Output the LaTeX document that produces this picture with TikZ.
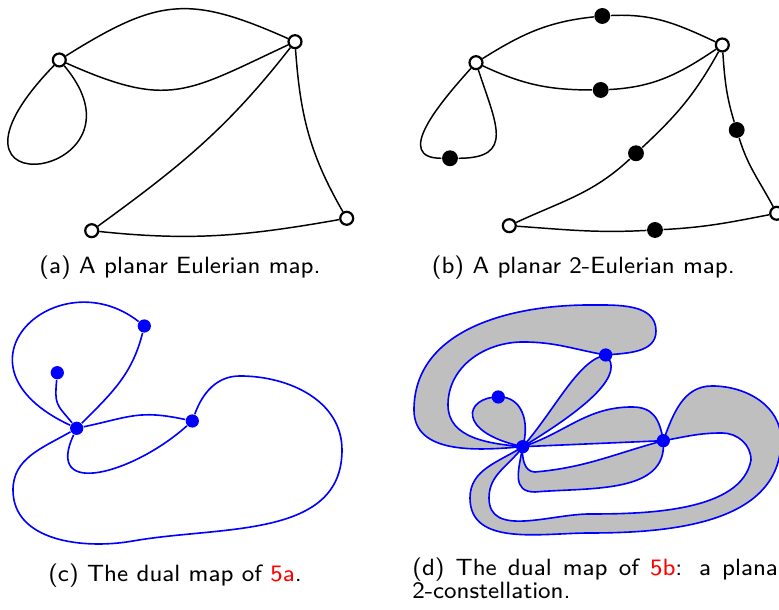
\documentclass[tikz,border=0pt]{standalone}
\usepackage{tikz}
\usetikzlibrary{backgrounds}
\tikzset{
  wvert/.style={circle,draw=black,fill=white,line width=0.75pt,inner sep=0pt,minimum size=4.4pt},
  bvert/.style={circle,fill=black,inner sep=0pt,minimum size=5.4pt},
  dvert/.style={circle,fill=blue,inner sep=0pt,minimum size=4.5pt},
  mapedge/.style={line width=0.5pt},
  dualedge/.style={draw=blue,line width=0.55pt},
  hyperface/.style={draw=blue,fill=gray!50,line width=0.55pt},
  subcap/.style={font=\sffamily\fontsize{8}{7.9}\selectfont,inner sep=0pt}
}
\begin{document}
\begin{tikzpicture}[x=0.34pt,y=0.34pt]
  \useasboundingbox (0,0) rectangle (779,610);
  \node[wvert] (a1) at (59.3,550) {};
  \node[wvert] (a2) at (295,568.3) {};
  \node[wvert] (a3) at (91.7,379.3) {};
  \node[wvert] (a4) at (346.7,391.7) {};
  \draw[mapedge] (a1) to[out=32,in=156,looseness=1.25] (a2);
  \draw[mapedge] (a1) to[out=-24,in=-155,looseness=1.3] (a2);
  \draw[mapedge] (a1) .. controls +(-150,-155) and +(100,-118) .. (a1);
  \draw[mapedge] (a2) to[out=232,in=36] (a3);
  \draw[mapedge] (a2) to[out=-86,in=120] (a4);
  \draw[mapedge] (a3) to[out=-6,in=-170] (a4);

  \node[wvert] (b1) at (476,547.3) {};
  \node[wvert] (b2) at (722.3,565) {};
  \node[wvert] (b3) at (509.3,384.3) {};
  \node[wvert] (b4) at (776.7,396.7) {};
  \node[bvert] (e1) at (602.3,594) {};
  \node[bvert] (e2) at (600.7,520) {};
  \node[bvert] (e3) at (450,451.7) {};
  \node[bvert] (e4) at (636,456.7) {};
  \node[bvert] (e5) at (736.7,480) {};
  \node[bvert] (e6) at (655,380) {};
  \draw[mapedge] (b1) to[out=32,in=186] (e1) to[out=3,in=155] (b2);
  \draw[mapedge] (b1) to[out=-25,in=180] (e2) to[out=3,in=-146] (b2);
  \draw[mapedge] (b1) to[out=228,in=180,looseness=1.3] (e3) to[out=0,in=-72,looseness=1.6] (b1);
  \draw[mapedge] (b2) to[out=241,in=43] (e4) to[out=223,in=25] (b3);
  \draw[mapedge] (b2) to[out=-86,in=107] (e5) to[out=-73,in=118] (b4);
  \draw[mapedge] (b3) to[out=-4,in=183] (e6) to[out=3,in=191] (b4);

  \node[dvert] (c1) at (76.7,181.7) {};
  \node[dvert] (c2) at (144.3,284) {};
  \node[dvert] (c3) at (57.3,237.3) {};
  \node[dvert] (c4) at (192.3,189) {};
  \draw[dualedge] (c3) to[out=-95,in=130,looseness=1.4] (c1);
  \draw[dualedge] (c2) to[out=-104,in=45] (c1);
  \draw[dualedge] (c2) .. controls +(142:110) and +(155:150) .. (c1);
  \draw[dualedge] (c1) to[out=12,in=168,looseness=1.2] (c4);
  \draw[dualedge] (c1) to[out=245,in=222,looseness=1.6] (c4);
  \draw[dualedge] (c4) to[out=70,in=180] (240,234) to[out=0,in=90] (342,160)
    to[out=-90,in=10] (133,69) to[out=190,in=-90] (13,120) to[out=90,in=210] (c1);

  \node[dvert] (d1) at (522.7,163.3) {};
  \node[dvert] (d2) at (605.7,255) {};
  \node[dvert] (d3) at (498.3,213) {};
  \node[dvert] (d4) at (663.3,169.3) {};
  \begin{scope}[on background layer]
    \draw[hyperface] (d1.center) .. controls (455,178) and (465,213) .. (d3.center)
      .. controls (522,214) and (530,188) .. (d1.center) -- cycle;
    \draw[hyperface] (d1.center) .. controls (555,200) and (578,250) .. (d2.center)
      .. controls (625,237) and (592,205) .. (d1.center) -- cycle;
    \draw[hyperface] (d1.center) to[out=185,in=-90] (414,200) to[out=90,in=180] (590,305)
      to[out=0,in=90] (656,279) to[out=-90,in=5] (d2.center) to[out=170,in=0] (523,268)
      to[out=180,in=90] (448,205) to[out=-90,in=175] (d1.center) -- cycle;
    \draw[hyperface] (d1.center) -- (d4.center) to[out=100,in=0,looseness=1.2] (632,203)
      to[out=180,in=18] (d1.center) -- cycle;
    \draw[hyperface] (d1.center) to[out=-100,in=180,looseness=1.3] (535,118)
      to[out=5,in=-85] (d4.center) to[out=195,in=5] (535,138) to[out=180,in=-95] (d1.center) -- cycle;
    \draw[hyperface] (d4.center) to[out=70,in=180] (712,224) to[out=0,in=90] (781,170)
      to[out=-90,in=0] (590,77) to[out=180,in=-90] (470,112) to[out=90,in=213] (d1.center)
      to[out=235,in=90] (489,112) to[out=-90,in=180] (590,96)
      to[out=0,in=-100,looseness=0.8] (751,150) to[out=90,in=0] (722,177)
      to[out=180,in=10] (d4.center) -- cycle;
  \end{scope}

  \node[subcap,anchor=base] (capa) at (180,336) {(a) A planar Eulerian map.};
  \node[subcap,anchor=base] (capb) at (583.3,336) {(b) A planar 2-Eulerian map.};
  \node[subcap,anchor=base] (capc) at (175,28.3) {(c) The dual map of \textcolor{red}{5a}.};
  \node[subcap,anchor=base west,text width=127pt,align=justify] (capd) at (411.7,34.3)
    {(d) The dual map of \textcolor{red}{5b}: a planar \mbox{2-constellation.}};
\end{tikzpicture}
\end{document}
